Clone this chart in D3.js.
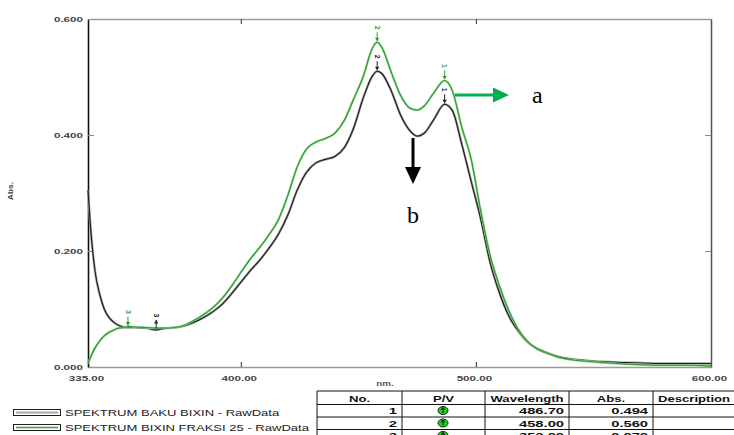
<!DOCTYPE html>
<html>
<head>
<meta charset="utf-8">
<script src="https://cdn.jsdelivr.net/npm/d3@7"></script>
<style>
html,body{margin:0;padding:0;background:#fff;}
svg{display:block;}
</style>
</head>
<body>
<svg id="chart" width="734" height="435"></svg>
<script>
// ---------- DATA ----------
const wavelengths = [335,336,337,338,340,342,344,346,348,350,352,355,360,364,368,372,376,380,384,388,392,396,400,404,408,412,416,420,424,428,432,436,440,444,448,452,456,458,460,464,468,472,475,478,482,486.7,490,494,498,502,506,510,514,518,522,526,530,535,540,550,560,570,580,590,600];
const bakuAbs = [0.305,0.245,0.200,0.165,0.125,0.099,0.085,0.077,0.072,0.069,0.068,0.068,0.067,0.064,0.067,0.068,0.071,0.077,0.085,0.095,0.108,0.126,0.146,0.166,0.184,0.205,0.229,0.262,0.305,0.336,0.352,0.358,0.363,0.378,0.412,0.463,0.502,0.510,0.506,0.476,0.434,0.407,0.398,0.403,0.426,0.453,0.442,0.384,0.320,0.256,0.181,0.128,0.088,0.062,0.043,0.032,0.025,0.018,0.014,0.010,0.008,0.007,0.006,0.006,0.006];
const fraksiAbs = [0.006,0.016,0.025,0.033,0.045,0.054,0.060,0.064,0.067,0.068,0.070,0.069,0.068,0.067,0.067,0.068,0.072,0.080,0.090,0.102,0.118,0.139,0.163,0.186,0.206,0.228,0.254,0.296,0.345,0.376,0.388,0.394,0.403,0.425,0.462,0.500,0.550,0.560,0.551,0.508,0.468,0.446,0.443,0.450,0.472,0.494,0.476,0.413,0.358,0.270,0.193,0.140,0.097,0.065,0.044,0.031,0.024,0.017,0.013,0.009,0.006,0.004,0.003,0.003,0.002];

const xTickValues = [335,400,500,600];
const yTickValues = [0,0.2,0.4,0.6];

const seriesNames = ["SPEKTRUM BAKU BIXIN - RawData","SPEKTRUM BIXIN FRAKSI 25 - RawData"];

// peak table (fraksi 25)
const peakNo = [1,2,3];
const peakWl = [486.70,458.00,352.00];
const peakAbs = [0.494,0.560,0.070];
// peak picks of baku curve
const bakuPickWl = [486.7,458,364];
const bakuPickAbs = [0.453,0.510,0.064];

const tableHeaders = ["No.","P/V","Wavelength","Abs.","Description"];

// ---------- LAYOUT ----------
const svg = d3.select("#chart");
const X0 = 88, X1 = 711, Y0 = 367, Y1 = 19;
const x = d3.scaleLinear().domain([335,600]).range([X0,X1]);
const y = d3.scaleLinear().domain([0,0.6]).range([Y0,Y1]);
const SX = 1.5; // horizontal stretch of the source screenshot text

function txt(g, px, py, s, o={}) {
  return g.append("text")
    .attr("transform", `translate(${px},${py}) scale(${o.sx||SX},1)`)
    .attr("font-family", o.family || "Arial, 'Liberation Sans', sans-serif")
    .attr("font-size", o.size || 8)
    .attr("font-weight", o.weight || "normal")
    .attr("fill", o.fill || "#222")
    .attr("text-anchor", o.anchor || "start")
    .text(s);
}

// ---------- AXES ----------
const gx = svg.append("g").attr("transform", `translate(0,${Y0})`)
  .call(d3.axisBottom(x).tickValues(xTickValues).tickSizeInner(-5).tickSizeOuter(0).tickFormat(d3.format(".2f")));
gx.select(".domain").attr("stroke","#9a9a9a").attr("stroke-width",1.5);
gx.selectAll(".tick line").attr("stroke","#333").filter(d => d===335 || d===600).remove();
gx.selectAll(".tick text")
  .attr("y", 0).attr("dy", null)
  .attr("transform", "translate(-2,14) scale(1.55,1)")
  .attr("font-family","Arial, sans-serif").attr("font-size",7.5).attr("font-weight","bold").attr("fill","#444");

const gy = svg.append("g").attr("transform", `translate(${X0},0)`)
  .call(d3.axisLeft(y).tickValues(yTickValues).tickSizeInner(-6).tickSizeOuter(0).tickFormat(d3.format(".3f")));
gy.select(".domain").attr("stroke","#111").attr("stroke-width",1.6);
gy.selectAll(".tick line").attr("stroke","#888").filter(d => d===0 || d===0.6).remove();
gy.selectAll(".tick text")
  .attr("x", 0).attr("dy", null)
  .attr("transform", "translate(-5,2.7) scale(1.55,1)")
  .attr("font-family","Arial, sans-serif").attr("font-size",7.5).attr("font-weight","bold").attr("fill","#444");

const gt = svg.append("g").attr("transform", `translate(0,${Y1})`)
  .call(d3.axisTop(x).tickValues([400,500]).tickSizeInner(-5).tickSizeOuter(0).tickFormat(""));
gt.select(".domain").attr("stroke","#9a9a9a").attr("stroke-width",1.5);
gt.selectAll(".tick line").attr("stroke","#333");

const gr = svg.append("g").attr("transform", `translate(${X1},0)`)
  .call(d3.axisRight(y).tickValues([0.2,0.4]).tickSizeInner(-6).tickSizeOuter(0).tickFormat(""));
gr.select(".domain").attr("stroke","#555").attr("stroke-width",1.5);
gr.selectAll(".tick line").attr("stroke","#888");

// axis titles
txt(svg, 385, 386, "nm.", {size:6.5, weight:"bold", fill:"#555", anchor:"middle"});
svg.append("text").attr("transform","translate(13,191) rotate(-90) scale(1.3,1)")
  .attr("font-family","Arial, sans-serif").attr("font-size",6.5).attr("font-weight","bold")
  .attr("fill","#444").attr("text-anchor","middle").text("Abs.");

// ---------- CURVES ----------
const line = d3.line().x(d => x(d[0])).y(d => y(d[1])).curve(d3.curveMonotoneX);
const bakuData = wavelengths.map((w,i) => [w, bakuAbs[i]]);
const fraksiData = wavelengths.map((w,i) => [w, fraksiAbs[i]]);

svg.append("path").datum(bakuData).attr("d", line)
  .attr("fill","none").attr("stroke","#a0a0a0").attr("stroke-width",2.4);
svg.append("path").datum(bakuData).attr("d", line)
  .attr("fill","none").attr("stroke","#1c1c1c").attr("stroke-width",1.1);
svg.append("path").datum(fraksiData).attr("d", line)
  .attr("fill","none").attr("stroke","#8fd08f").attr("stroke-width",2.2);
svg.append("path").datum(fraksiData).attr("d", line)
  .attr("fill","none").attr("stroke","#2f9a33").attr("stroke-width",1.1);

// ---------- PEAK PICK MARKERS ----------
function marker(wl, ab, label, color, up) {
  const px = x(wl), py = y(ab);
  const g = svg.append("g");
  g.append("line").attr("x1",px).attr("x2",px).attr("y1",py-10).attr("y2",py-1.5).attr("stroke",color).attr("stroke-width",1);
  if (!up) {
    g.append("path").attr("d",`M${px-2.2},${py-4.5}L${px+2.2},${py-4.5}L${px},${py-1}Z`).attr("fill",color);
  } else {
    g.append("path").attr("d",`M${px-2.2},${py-6.5}L${px+2.2},${py-6.5}L${px},${py-10}Z`).attr("fill",color);
  }
  g.append("text").attr("transform",`translate(${px},${py-14.5}) rotate(90)`)
    .attr("font-family","Arial, sans-serif").attr("font-size",7).attr("font-weight","bold")
    .attr("fill",color).attr("text-anchor","middle").attr("dy","0.35em").text(label);
}
peakNo.forEach((n,i) => marker(peakWl[i], peakAbs[i], n, "#2f9a33", false));
peakNo.forEach((n,i) => marker(bakuPickWl[i], bakuPickAbs[i], n, "#222", i===2));

// ---------- ANNOTATIONS a / b ----------
const green = "#00b050";
svg.append("line").attr("x1",455).attr("x2",494).attr("y1",95).attr("y2",95).attr("stroke",green).attr("stroke-width",3);
svg.append("path").attr("d","M493,87.5L509,95L493,102.5Z").attr("fill",green);
svg.append("text").attr("x",532).attr("y",103).attr("font-family","'Liberation Serif','Times New Roman',serif")
  .attr("font-size",24).attr("fill","#000").text("a");

svg.append("line").attr("x1",413).attr("x2",413).attr("y1",138).attr("y2",168).attr("stroke","#000").attr("stroke-width",3);
svg.append("path").attr("d","M405,167L421,167L413,184Z").attr("fill","#000");
svg.append("text").attr("x",413).attr("y",223).attr("font-family","'Liberation Serif','Times New Roman',serif")
  .attr("font-size",24).attr("fill","#000").attr("text-anchor","middle").text("b");

// ---------- LEGEND ----------
const legColors = ["#a8a8a8","#3aa040"];
const legY = [409,424];
seriesNames.forEach((name,i) => {
  svg.append("rect").attr("x",13.5).attr("y",legY[i]+0.5).attr("width",47).attr("height",6)
    .attr("fill","#fff").attr("stroke","#222").attr("stroke-width",1);
  svg.append("line").attr("x1",16).attr("x2",58).attr("y1",legY[i]+3.5).attr("y2",legY[i]+3.5)
    .attr("stroke",legColors[i]).attr("stroke-width",i===0?2.2:1.4);
  txt(svg, 65, legY[i]+6.5, name, {size:9, fill:"#222", sx:1.45});
});

// ---------- PEAK TABLE ----------
const colX = [317,402,485,569,653];
const rowY = [391,404.5,417,429.5,442];
const tg = svg.append("g");
rowY.forEach(ry => tg.append("line").attr("x1",317).attr("x2",734).attr("y1",ry).attr("y2",ry).attr("stroke","#111").attr("stroke-width",1));
colX.forEach(cx => tg.append("line").attr("x1",cx).attr("x2",cx).attr("y1",391).attr("y2",442).attr("stroke","#111").attr("stroke-width",1));
const headAnchor = ["middle","middle","middle","middle","start"];
const headX = [359.5,443.5,527,611,658];
tableHeaders.forEach((h,i) => txt(tg, headX[i], 401.5, h, {size:9.5, weight:"bold", fill:"#111", anchor:headAnchor[i], sx:1.38}));
const rowBase = [414, 426.5, 439];
peakNo.forEach((n,i) => {
  txt(tg, 397, rowBase[i], String(n), {size:9.5, weight:"bold", fill:"#111", anchor:"end", sx:1.55});
  txt(tg, 564, rowBase[i], peakWl[i].toFixed(2), {size:9.5, weight:"bold", fill:"#111", anchor:"end", sx:1.55});
  txt(tg, 648, rowBase[i], peakAbs[i].toFixed(3), {size:9.5, weight:"bold", fill:"#111", anchor:"end", sx:1.55});
  const cy = rowBase[i]-3.5;
  tg.append("ellipse").attr("cx",443).attr("cy",cy).attr("rx",5).attr("ry",4).attr("fill","#1fd41f").attr("stroke","#222").attr("stroke-width",1);
  tg.append("path").attr("d",`M441,${cy-0.5}L443,${cy-3}L445,${cy-0.5}M443,${cy-3}L443,${cy+2.5}`).attr("stroke","#111").attr("stroke-width",1).attr("fill","none");
});
</script>
</body>
</html>
